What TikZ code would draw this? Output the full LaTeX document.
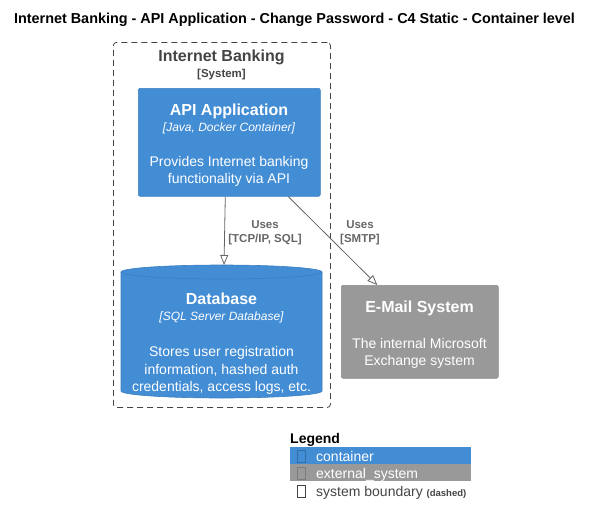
\documentclass[tikz,border=0pt]{standalone}
\usepackage{fontspec}
\setmainfont{Liberation Sans}
\usetikzlibrary{arrows.meta}
\definecolor{cont}{HTML}{438DD5}
\definecolor{contb}{HTML}{3C7FC0}
\definecolor{ext}{HTML}{999999}
\definecolor{extb}{HTML}{8A8A8A}
\definecolor{bnd}{HTML}{444444}
\definecolor{rel}{HTML}{666666}
\newcommand{\fsz}[1]{\fontsize{#1}{#1}\selectfont}
\begin{document}
\begin{tikzpicture}[x=1pt,y=1pt,
  txt/.style={inner sep=0pt, anchor=base},
  wt/.style={txt, text=white},
  relline/.style={draw=rel, line width=0.8pt, -{Triangle[open, length=10pt, width=8pt]}},
  rellabel/.style={txt, text=rel, font=\fsz{11.5}\bfseries},
  box/.style={rounded corners=2pt, inner sep=0pt, anchor=north west},
  glyph/.style={line width=0.45pt}]
\useasboundingbox (0,0) rectangle (595,-525);
% title
\node[txt, font=\fsz{14.4}\bfseries] (title) at (294.5,-23.5) {Internet Banking - API Application - Change Password - C4 Static - Container level};
% boundary
\node[box, draw=bnd, line width=0.8pt, dash pattern=on 6pt off 4pt, rounded corners=3pt, minimum width=217pt, minimum height=365pt] (bound) at (113,-42) {};
\node[txt, text=bnd, font=\fsz{16}\bfseries] (bt1) at (221.5,-61) {Internet Banking};
\node[txt, text=bnd, font=\fsz{11.5}\bfseries] (bt2) at (221.5,-77) {[System]};
% API app
\node[box, fill=cont, draw=contb, line width=0.6pt, minimum width=182pt, minimum height=108pt] (api) at (138,-88) {};
\node[wt, font=\fsz{16}\bfseries] (a1) at (229,-115) {API Application};
\node[wt, font=\fsz{12}\itshape] (a2) at (229,-131) {[Java, Docker Container]};
\node[wt, font=\fsz{14}] (a3) at (229,-166) {Provides Internet banking};
\node[wt, font=\fsz{14}] (a4) at (229,-183) {functionality via API};
% database cylinder
\fill[cont] (121,-272) -- (121,-391) arc[start angle=180, end angle=360, x radius=100.5pt, y radius=7pt] -- (322,-272) arc[start angle=0, end angle=180, x radius=100.5pt, y radius=7pt] -- cycle;
\draw[contb, line width=0.6pt] (121,-272) -- (121,-391) arc[start angle=180, end angle=360, x radius=100.5pt, y radius=7pt] -- (322,-272);
\draw[contb, line width=0.6pt] (221.5,-272) ellipse[x radius=100.5pt, y radius=7pt];
\coordinate (dbtop) at (224,-265);
\node[wt, font=\fsz{16}\bfseries] (d1) at (221.5,-304) {Database};
\node[wt, font=\fsz{12}\itshape] (d2) at (221.5,-320) {[SQL Server Database]};
\node[wt, font=\fsz{14}] (d3) at (221.5,-356) {Stores user registration};
\node[wt, font=\fsz{14}] (d4) at (221.5,-374) {information, hashed auth};
\node[wt, font=\fsz{14}] (d5) at (221.5,-391) {credentials, access logs, etc.};
% email system
\node[box, fill=ext, draw=extb, line width=0.6pt, minimum width=157pt, minimum height=93pt] (mail) at (341,-285) {};
\node[wt, font=\fsz{16}\bfseries] (m1) at (419.5,-312) {E-Mail System};
\node[wt, font=\fsz{14}] (m2) at (419.5,-348) {The internal Microsoft};
\node[wt, font=\fsz{14}] (m3) at (419.5,-365) {Exchange system};
% relations
\draw[relline] ([xshift=-4pt]api.south) -- (dbtop);
\node[rellabel] (r1a) at (265,-228) {Uses};
\node[rellabel] (r1b) at (265,-242) {[TCP/IP, SQL]};
\draw[relline] ([xshift=59pt]api.south) -- ([xshift=-42.5pt]mail.north);
\node[rellabel] (r2a) at (360,-228) {Uses};
\node[rellabel] (r2b) at (360,-242) {[SMTP]};
% legend
\node[txt, anchor=base west, font=\fsz{14}\bfseries] (lg) at (290,-443) {Legend};
\node[box, rounded corners=0pt, fill=cont, minimum width=181pt, minimum height=17pt] (lc) at (290,-447) {};
\node[box, rounded corners=0pt, fill=ext, minimum width=181pt, minimum height=17pt] (le) at (290,-464) {};
\draw[glyph, draw=contb!85!black] (297.5,-450.5) rectangle (305.5,-462.5);
\draw[glyph, draw=extb!90!black] (297.5,-467.5) rectangle (305.5,-479.5);
\draw[glyph, draw=bnd] (297.5,-485.5) rectangle (305.5,-497.5);
\node[wt, anchor=base west, font=\fsz{14}] (lct) at (316,-461) {container};
\node[wt, anchor=base west, font=\fsz{14}] (let) at (316,-478) {external\_system};
\node[txt, anchor=base west, text=bnd, font=\fsz{14}] (lbt) at (316,-496) {system boundary {\fsz{9.5}\bfseries (dashed)}};
\end{tikzpicture}
\end{document}
